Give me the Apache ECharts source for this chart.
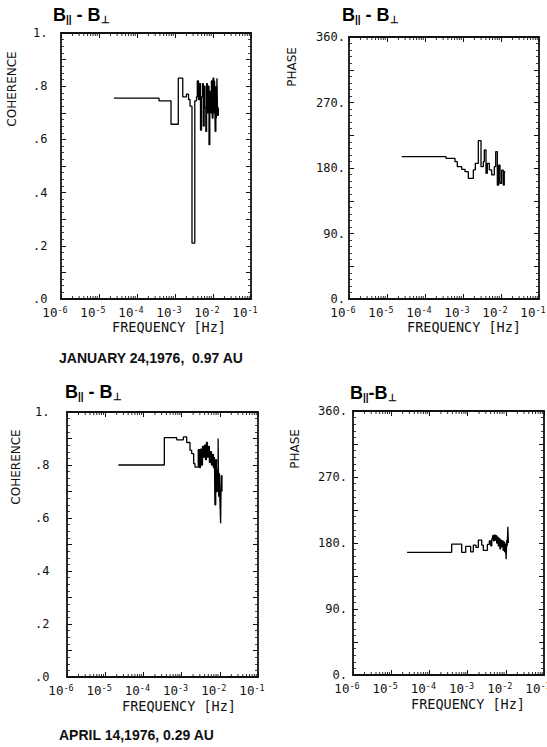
<!DOCTYPE html>
<html><head><meta charset="utf-8">
<script src="https://cdn.jsdelivr.net/npm/echarts@6/dist/echarts.min.js"></script>
<style>html,body{margin:0;padding:0;background:#fff}#c{width:547px;height:747px}</style>
</head><body><div id="c"></div>
<script>
// ---- DATA (frequency in Hz, step plots: each value holds until next frequency) ----
const coh1Freq = [2.48e-5,3.8e-4,7.85e-4,1.22e-3,1.6e-3,2.0e-3,2.27e-3,2.48e-3,2.8e-3,3.32e-3,3.68e-3,
  3.86e-3,4.15e-3,4.42e-3,4.69e-3,4.98e-3,5.30e-3,5.56e-3,5.86e-3,6.15e-3,6.47e-3,6.79e-3,7.13e-3,7.48e-3,
  7.85e-3,8.24e-3,8.65e-3,9.08e-3,9.53e-3,1.0e-2,1.05e-2,1.10e-2,1.14e-2,1.19e-2,1.23e-2,1.27e-2,1.32e-2,1.38e-2];
const coh1Val = [0.755,0.745,0.657,0.83,0.76,0.77,0.75,0.725,0.21,0.745,0.76,
  0.82,0.75,0.81,0.635,0.76,0.81,0.65,0.80,0.72,0.63,0.81,0.70,0.80,
  0.58,0.78,0.70,0.82,0.68,0.83,0.70,0.82,0.63,0.80,0.68,0.83,0.69,0.72];

const ph1Freq = [2.44e-5,3.57e-4,6.15e-4,7.08e-4,9.25e-4,1.13e-3,1.38e-3,1.87e-3,2.11e-3,2.53e-3,2.98e-3,
  3.42e-3,3.64e-3,4.03e-3,4.36e-3,4.92e-3,5.69e-3,6.67e-3,7.26e-3,8.0e-3,8.69e-3,9.42e-3,1.04e-2,1.15e-2,1.22e-2,1.30e-2];
const ph1Val = [195.5,193.3,188.7,181.8,178.2,175,165.8,177.3,186.4,217.5,181.8,
  188.7,204.7,172.7,186.4,177.3,170.5,181.8,202.4,156.6,184,159,177,156.6,175,175];

const coh2Freq = [2.22e-5,3.53e-4,7.45e-4,1.11e-3,1.36e-3,1.66e-3,1.84e-3,2.07e-3,2.24e-3,2.73e-3,2.93e-3,
  3.11e-3,3.31e-3,3.52e-3,3.73e-3,3.96e-3,4.21e-3,4.47e-3,4.74e-3,5.03e-3,5.34e-3,5.69e-3,6.04e-3,6.41e-3,
  6.81e-3,7.23e-3,7.45e-3,7.82e-3,8.20e-3,8.61e-3,9.04e-3,9.35e-3,9.70e-3,1.01e-2,1.05e-2,1.09e-2,1.14e-2];
const coh2Val = [0.80,0.903,0.895,0.906,0.885,0.855,0.843,0.805,0.792,0.858,0.79,
  0.86,0.80,0.87,0.83,0.875,0.82,0.885,0.83,0.87,0.81,0.85,0.80,0.84,
  0.79,0.83,0.65,0.82,0.70,0.78,0.90,0.68,0.77,0.66,0.58,0.76,0.70];

const ph2Freq = [2.61e-5,3.83e-4,7.0e-4,8.91e-4,1.20e-3,1.41e-3,1.66e-3,1.91e-3,2.34e-3,2.58e-3,3.29e-3,
  3.71e-3,4.04e-3,4.30e-3,4.51e-3,4.73e-3,4.99e-3,5.24e-3,5.50e-3,5.77e-3,6.05e-3,6.35e-3,6.67e-3,7.00e-3,
  7.34e-3,7.71e-3,8.09e-3,8.49e-3,8.91e-3,9.35e-3,9.82e-3,1.02e-2,1.06e-2,1.09e-2,1.13e-2,1.17e-2];
const ph2Val = [167.3,178.6,167.3,175.5,168,177,174,184,177,170,178,
  183,176,186,190,183,191,184,190,180,188,176,186,172,
  184,175,183,170,181,168,179,158,184,176,202,180];

const xTickExps = [-6,-5,-4,-3,-2,-1];
const cohTickLabels = ['.0','.2','.4','.6','.8','1.'];
const phaseTickLabels = ['0.','90.','180.','270.','360.'];
const captions = ['JANUARY 24,1976,  0.97 AU', 'APRIL 14,1976, 0.29 AU'];

// ---- CHART ----
const grids = [
  {left:61, top:33, width:190, height:266},
  {left:349, top:37, width:190, height:262},
  {left:67, top:412, width:191, height:265},
  {left:353, top:411, width:191, height:264}
];
const kinds = ['coh','ph','coh','ph'];
const yLabelCfg = [{align:'left',margin:28},{align:'right',margin:4},{align:'left',margin:32},{align:'right',margin:6}];
const minorFreqs = [];
for (let d=-6; d<=-2; d++) for (let k=2; k<=9; k++) minorFreqs.push(k*Math.pow(10,d));

const black = '#111';
const monoFont = 'DejaVu Sans Mono';
const xAxes = [], yAxes = [], series = [];
grids.forEach((g,i)=>{
  const isCoh = kinds[i]==='coh';
  const ymax = isCoh ? 1 : 360;
  const baseX = {type:'log', logBase:10, min:1e-6, max:1e-1, gridIndex:i,
    axisLine:{show:true,onZero:false,lineStyle:{color:black,width:1.8}},
    axisTick:{show:true,inside:true,length:5,lineStyle:{color:black,width:1}},
    splitLine:{show:false}, minorTick:{show:false}};
  xAxes.push(Object.assign({}, baseX, {position:'bottom',
    axisLabel:{show:true, margin:6, padding:[0,12,0,0],
      formatter: v => { const e = Math.round(Math.log10(v)); return xTickExps.includes(e) ? '{a|10}{b|'+e+'}' : ''; },
      rich:{a:{fontFamily:monoFont,fontSize:12.5,color:black,lineHeight:14,verticalAlign:'bottom'},
            b:{fontFamily:monoFont,fontSize:8.5,color:black,lineHeight:14,verticalAlign:'top'}}}}));
  xAxes.push(Object.assign({}, baseX, {position:'top', axisLabel:{show:false}}));
  const baseY = {type:'value', min:0, max:ymax, interval: isCoh?0.1:45, gridIndex:i,
    axisLine:{show:true,onZero:false,lineStyle:{color:black,width:1.8}},
    axisTick:{show:true,inside:true,length:5,lineStyle:{color:black,width:1}},
    minorTick:{show:true,splitNumber:isCoh?4:5,length:3,lineStyle:{color:black,width:0.8}},
    splitLine:{show:false}};
  yAxes.push(Object.assign({}, baseY, {position:'left',
    axisLabel:{show:true, align:yLabelCfg[i].align, margin:yLabelCfg[i].margin,
      fontFamily:monoFont, fontSize:12, color:black,
      formatter: v => {
        if (isCoh) { const k = Math.round(v*10); return k%2 ? '' : cohTickLabels[k/2]; }
        const k = Math.round(v/45); return k%2 ? '' : phaseTickLabels[k/2];
      }}}));
  yAxes.push(Object.assign({}, baseY, {position:'right', axisLabel:{show:false}}));
  // log minor ticks on bottom and top x axes
  series.push({type:'custom', xAxisIndex:2*i, yAxisIndex:2*i, silent:true, z:5,
    data: minorFreqs.map(f=>[f,0]),
    renderItem:(params,api)=>{
      const pb = api.coord([api.value(0),0]);
      const pt = api.coord([api.value(0),ymax]);
      return {type:'group', children:[
        {type:'line', shape:{x1:pb[0],y1:pb[1],x2:pb[0],y2:pb[1]-3}, style:{stroke:black,lineWidth:0.9}},
        {type:'line', shape:{x1:pt[0],y1:pt[1],x2:pt[0],y2:pt[1]+3}, style:{stroke:black,lineWidth:0.9}}
      ]};
    }});
});
const dataSets = [[coh1Freq,coh1Val],[ph1Freq,ph1Val],[coh2Freq,coh2Val],[ph2Freq,ph2Val]];
dataSets.forEach(([f,v],i)=>{
  series.push({type:'line', xAxisIndex:2*i, yAxisIndex:2*i, step:'end', symbol:'none', showSymbol:false,
    lineStyle:{color:'#000', width:1.3}, data:f.map((x,j)=>[x,v[j]]), z:4});
});

const titleRich = {b:{fontFamily:'Liberation Sans',fontSize:18,fontWeight:'bold',color:black},
                   s:{fontFamily:'Liberation Sans',fontSize:10,fontWeight:'bold',color:black,padding:[9,0,0,0]}};
function title(x,y,text){ return {type:'text', x:x, y:y, style:{text:text, rich:titleRich, align:'left', verticalAlign:'middle'}}; }
function vname(x,y,text,fs){ return {type:'text', x:x, y:y, rotation:Math.PI/2,
  style:{text:text, fontFamily:'DejaVu Sans', fontSize:fs, fill:black, align:'center', verticalAlign:'middle'}}; }
function hname(x,y,text){ return {type:'text', x:x, y:y,
  style:{text:text, fontFamily:monoFont, fontSize:13.5, fill:black, align:'center', verticalAlign:'middle'}}; }
function caption(x,y,text){ return {type:'text', x:x, y:y,
  style:{text:text, fontFamily:'Liberation Sans', fontSize:14, fontWeight:'bold', fill:black, align:'left', verticalAlign:'middle'}}; }

const graphic = [
  title(53,15,'{b|B}{s|||}{b| - B}{s|⊥}'),
  title(342,15,'{b|B}{s|||}{b| - B}{s|⊥}'),
  title(65,392,'{b|B}{s|||}{b| - B}{s|⊥}'),
  title(350,393,'{b|B}{s|||}{b|-B}{s|⊥}'),
  vname(12,89,'COHERENCE',12), vname(292,67,'PHASE',12),
  vname(16,467,'COHERENCE',12), vname(295,449,'PHASE',12),
  hname(169,327,'FREQUENCY [Hz]'), hname(464,327,'FREQUENCY [Hz]'),
  hname(179,706,'FREQUENCY [Hz]'), hname(468,704,'FREQUENCY [Hz]'),
  caption(59,358,captions[0]), caption(59,735,captions[1])
];

const chart = echarts.init(document.getElementById('c'), null, {renderer:'svg'});
chart.setOption({
  animation:false, backgroundColor:'#fff',
  grid: grids.map(g=>Object.assign({containLabel:false, outerBoundsMode:'none'}, g)),
  xAxis:xAxes, yAxis:yAxes, series:series, graphic:graphic
});
</script></body></html>
